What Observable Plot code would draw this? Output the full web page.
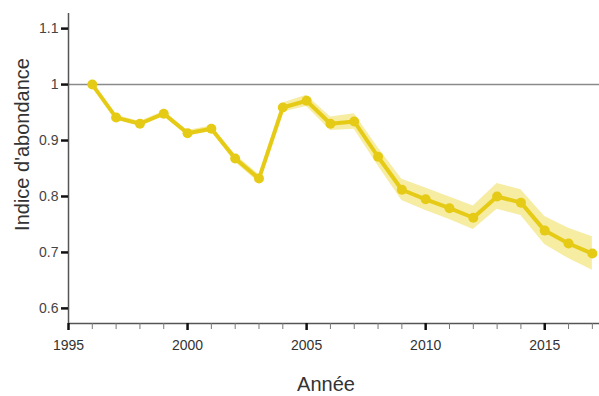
<!DOCTYPE html>
<html><head><meta charset="utf-8">
<script src="https://cdn.jsdelivr.net/npm/d3@7"></script>
<script src="https://cdn.jsdelivr.net/npm/@observablehq/plot@0.6"></script>
<style>body{margin:0;background:#fff;} svg{display:block;}</style>
</head><body><div id="chart"></div>
<script>
const years = [1996,1997,1998,1999,2000,2001,2002,2003,2004,2005,2006,2007,2008,2009,2010,2011,2012,2013,2014,2015,2016,2017];
const index = [1.0,0.941,0.930,0.948,0.913,0.921,0.868,0.832,0.959,0.971,0.930,0.934,0.871,0.812,0.795,0.779,0.762,0.800,0.789,0.739,0.716,0.698];
const lower = [1.0,0.937,0.926,0.944,0.908,0.916,0.861,0.825,0.951,0.961,0.918,0.920,0.855,0.793,0.775,0.759,0.741,0.777,0.766,0.714,0.689,0.668];
const upper = [1.0,0.945,0.934,0.952,0.918,0.926,0.875,0.839,0.967,0.981,0.942,0.948,0.887,0.831,0.815,0.799,0.783,0.823,0.812,0.764,0.743,0.728];
const yTicks = [0.6,0.7,0.8,0.9,1,1.1];
const yTickLabels = ["0.6","0.7","0.8","0.9","1","1.1"];
const xMajor = [1995,2000,2005,2010,2015];
const xMinor = d3.range(1995,2018);
const xTitle = "Année";
const yTitle = "Indice d'abondance";

const data = years.map((y,i)=>({year:y, v:index[i], lo:lower[i], hi:upper[i]}));
const lineColor = "#e6cb16";

const chart = Plot.plot({
  width: 599, height: 396,
  marginLeft: 68, marginRight: 0, marginTop: 13, marginBottom: 73,
  style: {fontFamily: "Liberation Sans, Arial, sans-serif", background: "#fff"},
  x: {domain: [1995, 2017.3]},
  y: {domain: [0.573, 1.127]},
  marks: [
    Plot.ruleY([1], {stroke: "#8a8a8a", strokeWidth: 1.5}),
    Plot.areaY(data, {x: "year", y1: "lo", y2: "hi", fill: "#efdc55", fillOpacity: 0.55}),
    Plot.line(data, {x: "year", y: "v", stroke: lineColor, strokeWidth: 4}),
    Plot.dot(data, {x: "year", y: "v", fill: lineColor, r: 5}),
    Plot.ruleX([1995], {stroke: "#555", strokeWidth: 1.5}),
    Plot.ruleY([0.573], {stroke: "#555", strokeWidth: 1.5}),
    Plot.axisY({ticks: yTicks, tickFormat: (d,i)=>yTickLabels[i], tickSize: 7, tickPadding: 3, strokeWidth: 2.5, stroke: "#111", fontSize: 14, fill: "#444", label: null}),
    Plot.axisX({ticks: xMinor, tickFormat: () => "", tickSize: 6, stroke: "#777", strokeWidth: 1, label: null}),
    Plot.axisX({ticks: xMajor, tickFormat: d => String(d), tickSize: 7, tickPadding: 10, stroke: "#111", strokeWidth: 2.5, fontSize: 14, fill: "#333", label: null}),
    Plot.text([xTitle], {frameAnchor: "bottom", dx: -8, dy: 67, fontSize: 20, fill: "#333", textAnchor: "middle"}),
    Plot.text([yTitle], {frameAnchor: "left", dx: -46, dy: -24, rotate: -90, fontSize: 20, fill: "#333", textAnchor: "middle"})
  ]
});
document.getElementById("chart").appendChild(chart);
</script>
</body></html>
